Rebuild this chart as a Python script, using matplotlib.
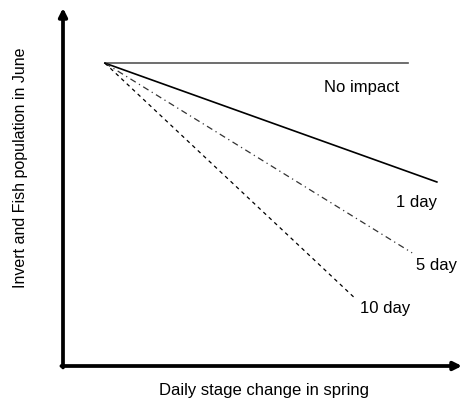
import matplotlib
matplotlib.use("Agg")
import matplotlib.pyplot as plt

plt.rcParams['font.family'] = ['Liberation Sans', 'DejaVu Sans']

# Conceptual response of populations to daily stage change
scenarios = ["No impact", "1 day", "5 day", "10 day"]
start_x = 1.05
start_y = 8.46
end_x = [8.65, 9.37, 8.75, 7.34]
end_y = [8.46, 5.14, 3.16, 1.87]
label_x = [7.49, 8.87, 9.37, 8.07]
label_y = [7.79, 4.58, 2.82, 1.62]

styles = [
    dict(color="#555555", lw=1.2, linestyle="-"),
    dict(color="black", lw=1.2, linestyle="-"),
    dict(color="#333333", lw=0.9, linestyle=(0, (5, 3, 1, 3))),
    dict(color="black", lw=0.9, linestyle=(0, (3, 3))),
]

fig = plt.figure(figsize=(4.63, 4.03), dpi=100)
W, H = 463, 403
ax = fig.add_axes([63 / W, (H - 366) / H, (462 - 63) / W, (366 - 8) / H])
ax.set_xlim(0, 10)
ax.set_ylim(0, 10)
for s in ax.spines.values():
    s.set_visible(False)
ax.set_xticks([])
ax.set_yticks([])

for name, ex, ey, lx, ly, st in zip(scenarios, end_x, end_y, label_x, label_y, styles):
    ax.plot([start_x, ex], [start_y, ey], **st)
    ax.text(lx, ly, name, ha="center", va="center", fontsize=12)

# Axis arrows
arrow = dict(arrowstyle="-|>", lw=2.7, color="black", mutation_scale=12,
             shrinkA=0, shrinkB=0)
ax.annotate("", xy=(0, 1), xytext=(0, -0.004), xycoords="axes fraction",
            arrowprops=arrow, annotation_clip=False)
ax.annotate("", xy=(1, 0), xytext=(-0.004, 0), xycoords="axes fraction",
            arrowprops=arrow, annotation_clip=False)

fig.text(264 / W, 1 - 390 / H, "Daily stage change in spring",
         ha="center", va="center", fontsize=12)
fig.text(21 / W, 1 - 168 / H, "Invert and Fish population in June",
         ha="center", va="center", rotation=90, fontsize=11.5)

fig.savefig("out.png", dpi=100)
